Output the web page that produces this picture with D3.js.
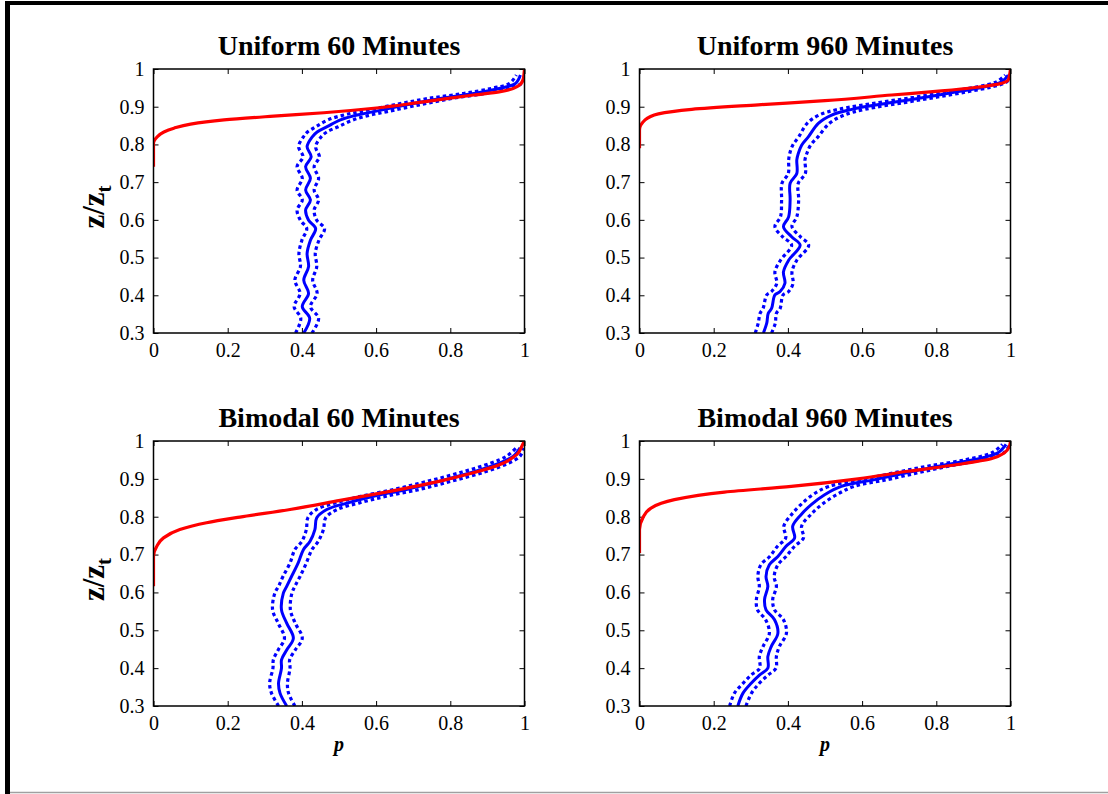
<!DOCTYPE html>
<html>
<head>
<meta charset="utf-8">
<script src="https://cdn.jsdelivr.net/npm/d3@7"></script>
<style>
  html, body { margin: 0; padding: 0; background: #fff; }
  svg { display: block; }
  text { font-family: "Liberation Serif", "Times New Roman", serif; fill: #000; }
</style>
</head>
<body>
<svg id="fig" width="1108" height="794"></svg>
<script>
// Axis ticks shared by all four panels
const pTicks = [0, 0.2, 0.4, 0.6, 0.8, 1];
const zTicks = [0.3, 0.4, 0.5, 0.6, 0.7, 0.8, 0.9, 1];
const panelTitles = ["Uniform 60 Minutes", "Uniform 960 Minutes", "Bimodal 60 Minutes", "Bimodal 960 Minutes"];

// Uniform 60 minutes: measured profile (mean and half-width of band) and model curve
const uni60Z      = [0.300, 0.339, 0.370, 0.405, 0.440, 0.476, 0.511, 0.546, 0.577, 0.599, 0.626, 0.653, 0.679, 0.710, 0.741, 0.767, 0.794, 0.820, 0.833, 0.847, 0.865, 0.878, 0.887, 0.905, 0.922, 0.935, 0.949, 0.962, 0.984];
const uni60Mean   = [0.405, 0.421, 0.401, 0.418, 0.405, 0.418, 0.414, 0.423, 0.437, 0.418, 0.410, 0.423, 0.410, 0.423, 0.410, 0.425, 0.414, 0.428, 0.441, 0.468, 0.504, 0.549, 0.594, 0.683, 0.773, 0.863, 0.935, 0.976, 0.989];
const uni60Spread = [0.022, 0.024, 0.022, 0.023, 0.024, 0.022, 0.022, 0.023, 0.024, 0.022, 0.023, 0.022, 0.023, 0.022, 0.023, 0.022, 0.023, 0.024, 0.026, 0.030, 0.034, 0.036, 0.036, 0.034, 0.032, 0.028, 0.022, 0.016, 0.011];
const uni60ModelP = [0.000, 0.000, 0.010, 0.028, 0.055, 0.100, 0.190, 0.324, 0.459, 0.594, 0.728, 0.863, 0.935, 0.980, 0.996, 0.999, 1.000];
const uni60ModelZ = [0.741, 0.803, 0.820, 0.833, 0.843, 0.854, 0.865, 0.875, 0.884, 0.896, 0.913, 0.931, 0.940, 0.953, 0.971, 0.990, 1.000];

// Uniform 960 minutes
const uni960Z      = [0.300, 0.326, 0.352, 0.365, 0.401, 0.410, 0.432, 0.462, 0.493, 0.533, 0.555, 0.582, 0.608, 0.653, 0.697, 0.723, 0.759, 0.776, 0.798, 0.820, 0.856, 0.878, 0.893, 0.911, 0.925, 0.940, 0.953, 0.966, 0.984];
const uni960Mean   = [0.334, 0.343, 0.347, 0.356, 0.365, 0.379, 0.392, 0.388, 0.402, 0.433, 0.410, 0.388, 0.402, 0.406, 0.406, 0.424, 0.424, 0.428, 0.437, 0.455, 0.482, 0.518, 0.572, 0.680, 0.770, 0.859, 0.931, 0.976, 0.994];
const uni960Spread = [0.022, 0.023, 0.022, 0.023, 0.022, 0.023, 0.022, 0.023, 0.022, 0.023, 0.024, 0.023, 0.022, 0.023, 0.022, 0.023, 0.022, 0.023, 0.024, 0.026, 0.030, 0.034, 0.036, 0.034, 0.030, 0.026, 0.020, 0.014, 0.008];
const uni960ModelP = [0.000, 0.000, 0.015, 0.051, 0.141, 0.320, 0.500, 0.680, 0.814, 0.904, 0.967, 0.994, 0.999, 1.000];
const uni960ModelZ = [0.790, 0.838, 0.865, 0.881, 0.893, 0.905, 0.916, 0.931, 0.942, 0.951, 0.960, 0.971, 0.993, 1.000];

// Bimodal 60 minutes
const bim60Z      = [0.300, 0.334, 0.360, 0.400, 0.422, 0.448, 0.479, 0.519, 0.554, 0.598, 0.616, 0.642, 0.678, 0.713, 0.735, 0.766, 0.797, 0.819, 0.836, 0.854, 0.872, 0.894, 0.918, 0.942, 0.960, 0.982];
const bim60Mean   = [0.359, 0.341, 0.337, 0.345, 0.345, 0.359, 0.377, 0.359, 0.345, 0.350, 0.359, 0.372, 0.390, 0.404, 0.422, 0.435, 0.440, 0.467, 0.521, 0.593, 0.682, 0.772, 0.862, 0.934, 0.970, 0.988];
const bim60Spread = [0.022, 0.023, 0.024, 0.023, 0.022, 0.023, 0.024, 0.023, 0.024, 0.023, 0.022, 0.023, 0.022, 0.023, 0.022, 0.023, 0.024, 0.028, 0.032, 0.034, 0.034, 0.032, 0.030, 0.024, 0.018, 0.010];
const bim60ModelP = [0.000, 0.000, 0.009, 0.027, 0.071, 0.143, 0.233, 0.368, 0.503, 0.637, 0.772, 0.862, 0.934, 0.979, 0.995, 1.000];
const bim60ModelZ = [0.616, 0.695, 0.722, 0.744, 0.766, 0.784, 0.799, 0.819, 0.843, 0.867, 0.894, 0.916, 0.938, 0.964, 0.991, 1.000];

// Bimodal 960 minutes
const bim960Z      = [0.300, 0.334, 0.360, 0.382, 0.400, 0.431, 0.457, 0.492, 0.528, 0.554, 0.581, 0.616, 0.642, 0.673, 0.695, 0.722, 0.744, 0.775, 0.806, 0.832, 0.858, 0.880, 0.898, 0.917, 0.935, 0.951, 0.969, 0.991];
const bim960Mean   = [0.265, 0.279, 0.301, 0.324, 0.346, 0.346, 0.355, 0.373, 0.364, 0.341, 0.337, 0.346, 0.341, 0.350, 0.373, 0.395, 0.418, 0.413, 0.436, 0.463, 0.499, 0.544, 0.634, 0.723, 0.813, 0.903, 0.966, 0.988];
const bim960Spread = [0.022, 0.023, 0.022, 0.023, 0.022, 0.023, 0.022, 0.023, 0.024, 0.023, 0.022, 0.023, 0.022, 0.023, 0.022, 0.023, 0.024, 0.024, 0.026, 0.028, 0.032, 0.034, 0.034, 0.032, 0.028, 0.022, 0.016, 0.010];
const bim960ModelP = [0.000, 0.000, 0.009, 0.031, 0.094, 0.229, 0.409, 0.589, 0.723, 0.858, 0.948, 0.984, 0.997, 1.000];
const bim960ModelZ = [0.704, 0.766, 0.797, 0.823, 0.845, 0.865, 0.880, 0.900, 0.920, 0.938, 0.953, 0.969, 0.986, 1.000];

const panels = [
  { title: panelTitles[0], z: uni60Z,  mean: uni60Mean,  spread: uni60Spread,  mp: uni60ModelP,  mz: uni60ModelZ,  x0: 153.5, x1: 524.5,  y0: 69,  y1: 333, ylab: true,  xlab: false },
  { title: panelTitles[1], z: uni960Z, mean: uni960Mean, spread: uni960Spread, mp: uni960ModelP, mz: uni960ModelZ, x0: 639.5, x1: 1010.5, y0: 69,  y1: 333, ylab: false, xlab: false },
  { title: panelTitles[2], z: bim60Z,  mean: bim60Mean,  spread: bim60Spread,  mp: bim60ModelP,  mz: bim60ModelZ,  x0: 153.5, x1: 524.5,  y0: 441, y1: 706, ylab: true,  xlab: true },
  { title: panelTitles[3], z: bim960Z, mean: bim960Mean, spread: bim960Spread, mp: bim960ModelP, mz: bim960ModelZ, x0: 639.5, x1: 1010.5, y0: 441, y1: 706, ylab: false, xlab: true }
];

const SERIF = '"Liberation Serif", "Times New Roman", serif';
const svg = d3.select("#fig");

// Figure frame
svg.append("rect").attr("x", 5).attr("y", 1).attr("width", 1103).attr("height", 4).attr("fill", "#000");
svg.append("rect").attr("x", 5).attr("y", 1).attr("width", 5).attr("height", 793).attr("fill", "#000");
svg.append("line").attr("x1", 10).attr("x2", 1108).attr("y1", 792.5).attr("y2", 792.5)
  .attr("stroke", "#a0a0a0").attr("stroke-width", 1.5);

panels.forEach((pn, i) => {
  const x = d3.scaleLinear().domain([0, 1]).range([pn.x0, pn.x1]);
  const y = d3.scaleLinear().domain([0.3, 1]).range([pn.y1, pn.y0]);
  const g = svg.append("g");

  const clipId = "clip" + i;
  g.append("clipPath").attr("id", clipId).append("rect")
    .attr("x", pn.x0).attr("y", pn.y0).attr("width", pn.x1 - pn.x0).attr("height", pn.y1 - pn.y0);

  // Axes with inward ticks on all four sides
  const tl = 5;
  const fmt = d => d3.format("~g")(d);
  const axB = g.append("g").attr("transform", `translate(0,${pn.y1})`)
    .call(d3.axisBottom(x).tickValues(pTicks).tickFormat(fmt).tickSizeInner(-tl).tickSizeOuter(0).tickPadding(10));
  const axT = g.append("g").attr("transform", `translate(0,${pn.y0})`)
    .call(d3.axisTop(x).tickValues(pTicks).tickFormat("").tickSizeInner(-tl).tickSizeOuter(0));
  const axL = g.append("g").attr("transform", `translate(${pn.x0},0)`)
    .call(d3.axisLeft(y).tickValues(zTicks).tickFormat(fmt).tickSizeInner(-tl).tickSizeOuter(0).tickPadding(9));
  const axR = g.append("g").attr("transform", `translate(${pn.x1},0)`)
    .call(d3.axisRight(y).tickValues(zTicks).tickFormat("").tickSizeInner(-tl).tickSizeOuter(0));
  [axB, axT, axL, axR].forEach(a => {
    a.attr("font-family", null).attr("font-size", null);
    a.select(".domain").remove();
    a.selectAll(".tick line").attr("stroke", "#000").attr("stroke-width", 1);
    a.selectAll(".tick text").style("font-family", SERIF)
      .style("font-size", "20px").style("fill", "#000");
  });
  axB.selectAll(".tick text").attr("dy", "0.71em");

  const curves = g.append("g").attr("clip-path", `url(#${clipId})`);

  // Measured profile with band
  const idx = d3.range(pn.z.length);
  const blueLine = acc => d3.line().curve(d3.curveCatmullRom.alpha(0.5))
    .x(k => x(acc(k))).y(k => y(pn.z[k]));
  curves.append("path").datum(idx)
    .attr("d", blueLine(k => pn.mean[k] - pn.spread[k]))
    .attr("fill", "none").attr("stroke", "#0000ff").attr("stroke-width", 3.2)
    .attr("stroke-dasharray", "3.5,3");
  curves.append("path").datum(idx)
    .attr("d", blueLine(k => pn.mean[k] + pn.spread[k]))
    .attr("fill", "none").attr("stroke", "#0000ff").attr("stroke-width", 3.2)
    .attr("stroke-dasharray", "3.5,3");
  curves.append("path").datum(idx)
    .attr("d", blueLine(k => pn.mean[k]))
    .attr("fill", "none").attr("stroke", "#0000ff").attr("stroke-width", 3);

  // Model curve
  const midx = d3.range(pn.mp.length);
  curves.append("path").datum(midx)
    .attr("d", d3.line().curve(d3.curveMonotoneY).x(k => x(pn.mp[k])).y(k => y(pn.mz[k])))
    .attr("fill", "none").attr("stroke", "#ff0000").attr("stroke-width", 3.2);

  // Axes box
  g.append("rect").attr("x", pn.x0).attr("y", pn.y0)
    .attr("width", pn.x1 - pn.x0).attr("height", pn.y1 - pn.y0)
    .attr("fill", "none").attr("stroke", "#000").attr("stroke-width", 1.5);

  // Title
  g.append("text").attr("x", (pn.x0 + pn.x1) / 2).attr("y", pn.y0 - 14)
    .attr("text-anchor", "middle").style("font-size", "28px").style("font-weight", "bold")
    .text(pn.title);

  if (pn.ylab) {
    const t = g.append("text")
      .attr("transform", `translate(104,${(pn.y0 + pn.y1) / 2 + 6}) rotate(-90)`)
      .attr("text-anchor", "middle").style("font-size", "31px").style("font-weight", "bold");
    t.append("tspan").text("z/z");
    t.append("tspan").style("font-size", "21px").attr("dy", 7).text("t");
  }
  if (pn.xlab) {
    g.append("text").attr("x", (pn.x0 + pn.x1) / 2).attr("y", pn.y1 + 45)
      .attr("text-anchor", "middle").style("font-size", "20px")
      .style("font-weight", "bold").style("font-style", "italic").text("p");
  }
});
</script>
</body>
</html>
